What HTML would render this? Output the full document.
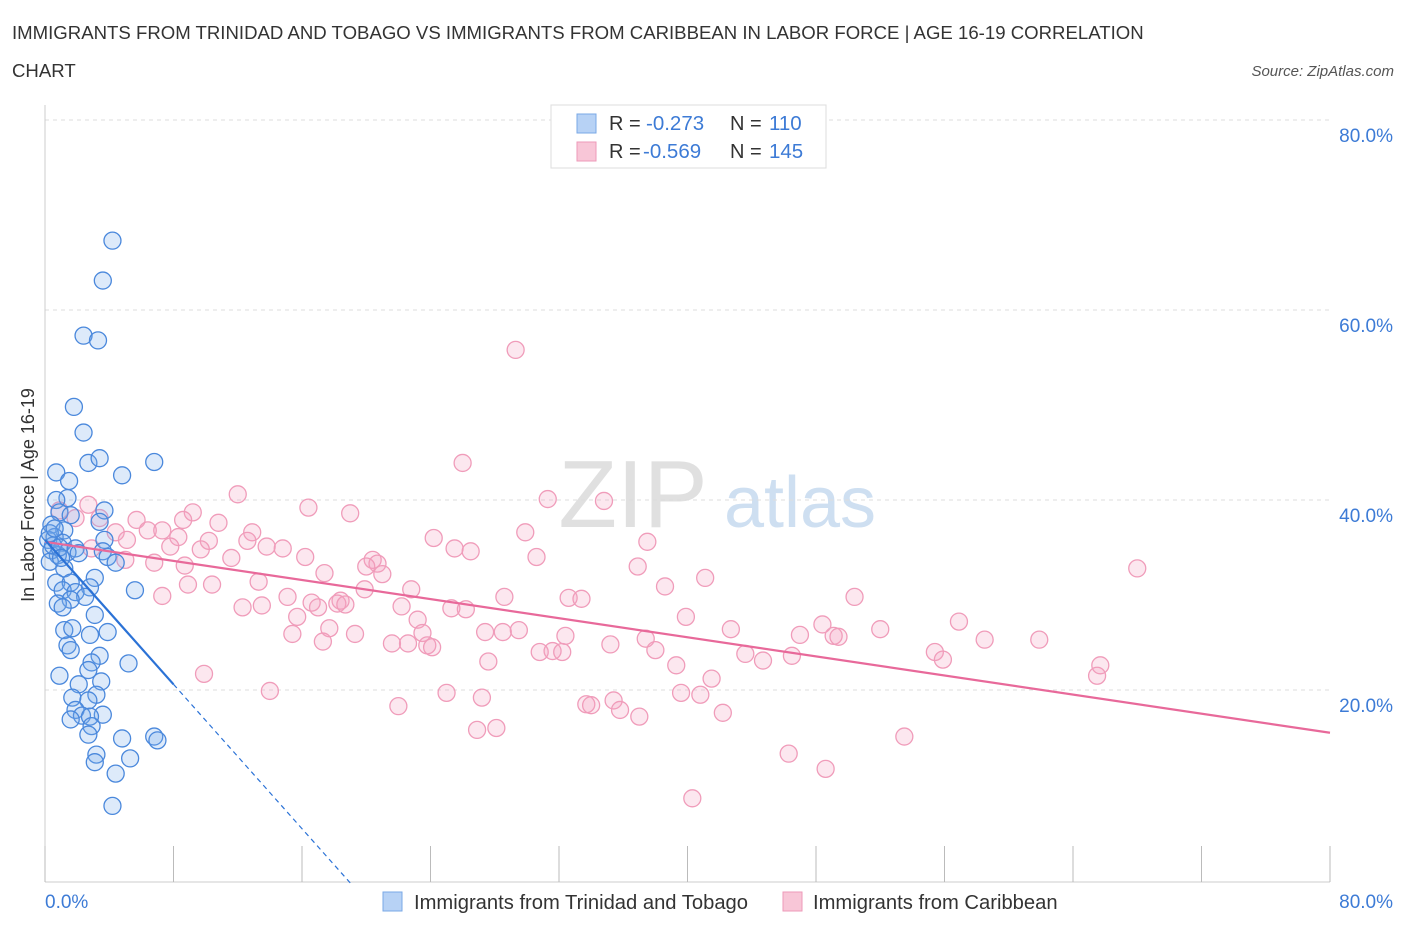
<!DOCTYPE html>
<html><head><meta charset="utf-8">
<style>
body{margin:0;background:#fff;font-family:"Liberation Sans",sans-serif;}
#wrap{position:relative;width:1406px;height:930px;overflow:hidden;}
svg text{font-family:"Liberation Sans",sans-serif;}
</style></head>
<body>
<div id="wrap">
<svg id="chart" width="1406" height="930">
  <text x="12" y="39" font-size="18.6" fill="#333">IMMIGRANTS FROM TRINIDAD AND TOBAGO VS IMMIGRANTS FROM CARIBBEAN IN LABOR FORCE | AGE 16-19 CORRELATION</text>
  <text x="12" y="77" font-size="18.6" fill="#333">CHART</text>
  <text x="1394" y="76" font-size="15" fill="#555" font-style="italic" text-anchor="end">Source: ZipAtlas.com</text>
  <text x="34" y="495" font-size="18" fill="#333" text-anchor="middle" transform="rotate(-90 34 495)">In Labor Force | Age 16-19</text>
  <g>
    <text x="633" y="527" font-size="96" fill="#ddd" font-family="Liberation Serif" text-anchor="middle" opacity="0.9">ZIP</text>
    <text x="800" y="527" font-size="72" fill="#c9dcf0" text-anchor="middle" opacity="0.9">atlas</text>
  </g>
  <g id="grid"></g>
  <g id="axes"></g>
  <g id="points"></g>
  <g id="trends"></g>
  <g>
    <rect x="551" y="105" width="275" height="63" fill="#fff" stroke="#ddd"/>
    <rect x="577" y="114" width="19" height="19" fill="#b7d2f5" stroke="#7aa8e6"/>
    <text x="609" y="130" font-size="20" fill="#333">R = </text>
    <text x="646" y="130" font-size="20.5" fill="#3d7bd6">-0.273</text>
    <text x="730" y="130" font-size="20" fill="#333">N = </text>
    <text x="769" y="130" font-size="20.5" fill="#3d7bd6">110</text>
    <rect x="577" y="142" width="19" height="19" fill="#f8c6d7" stroke="#ee9ab8"/>
    <text x="609" y="158" font-size="20" fill="#333">R = </text>
    <text x="643" y="158" font-size="20.5" fill="#3d7bd6">-0.569</text>
    <text x="730" y="158" font-size="20" fill="#333">N = </text>
    <text x="769" y="158" font-size="20.5" fill="#3d7bd6">145</text>
  </g>
  <g>
    <rect x="383" y="892" width="19" height="19" fill="#b7d2f5" stroke="#7aa8e6"/>
    <text x="414" y="909" font-size="20.2" fill="#333">Immigrants from Trinidad and Tobago</text>
    <rect x="783" y="892" width="19" height="19" fill="#f8c6d7" stroke="#ee9ab8"/>
    <text x="813" y="909" font-size="20.2" fill="#333">Immigrants from Caribbean</text>
  </g>
</svg>
</div>
<script>
const yTicks=[20,40,60,80];
const yTickLabels=["20.0%","40.0%","60.0%","80.0%"];
const xTicks=[0,8,16,24,32,40,48,56,64,72,80];
const xEndLabels=["0.0%","80.0%"];
const blueX=[4.2,3.6,2.4,3.3,1.8,2.4,2.7,3.4,6.8,4.8,0.7,1.5,1.4,0.7,3.7,0.9,1.6,3.4,0.4,1.2,0.6,0.2,1.1,1.9,3.7,0.4,1.4,2.1,0.8,3.6,3.9,4.4,0.3,1.2,3.1,0.7,1.6,2.8,5.6,1.1,1.9,2.5,1.6,0.8,1.1,3.1,1.2,2.8,3.9,1.7,1.4,1.6,3.4,2.9,5.2,2.7,0.9,3.5,2.1,3.2,1.7,2.7,1.9,2.3,3.6,2.8,1.6,2.9,2.7,4.8,6.8,7.0,3.2,3.1,5.3,4.4,4.2,0.5,0.9,0.3,1.0,0.6];
const blueY=[67.3,63.1,57.3,56.8,49.8,47.1,43.9,44.4,44.0,42.6,42.9,42.0,40.2,40.0,38.9,38.7,38.4,37.7,37.4,36.8,36.1,35.8,35.5,34.9,35.8,34.7,34.5,34.4,34.2,34.6,34.0,33.4,33.5,32.8,31.8,31.3,31.3,30.8,30.5,30.5,30.3,29.8,29.5,29.1,28.7,27.9,26.3,25.8,26.1,26.5,24.7,24.2,23.6,22.9,22.8,22.1,21.5,20.9,20.6,19.5,19.2,18.9,17.9,17.3,17.4,17.2,16.9,16.2,15.3,14.9,15.1,14.7,13.2,12.4,12.8,11.2,7.8,35.2,35.0,36.5,33.9,37.0];
const pinkX=[29.3,26.0,12.0,31.3,34.8,16.4,19.0,9.2,8.6,10.8,2.7,1.9,0.9,3.4,5.7,6.4,7.3,4.4,5.1,29.9,12.9,24.2,8.3,10.2,12.6,37.5,2.9,7.8,9.7,13.8,14.8,25.5,26.5,16.2,11.6,30.6,5.0,6.8,8.7,20.4,20.7,20.0,21.0,36.9,68.0,41.1,17.4,8.9,10.4,13.3,38.6,22.8,19.9,7.3,15.1,28.6,32.6,33.4,50.4,16.6,18.4,18.2,18.7,12.3,13.5,22.2,25.3,26.2,17.0,15.7,23.2,39.9,48.4,56.9,19.3,17.7,23.5,15.4,27.4,28.5,29.5,42.7,52.0,32.4,47.0,49.1,49.4,17.3,21.6,22.6,23.8,24.1,37.4,35.2,58.5,61.9,30.8,31.6,32.2,38.0,43.6,44.7,46.5,55.4,55.9,27.6,39.3,65.7,65.5,9.9,41.5,14.0,25.0,27.2,35.4,39.6,40.8,22.0,33.7,34.0,35.8,37.0,42.2,26.9,28.1,53.5,46.3,48.6,40.3];
const pinkY=[55.8,43.9,40.6,40.1,39.9,39.2,38.6,38.7,37.9,37.6,39.5,38.1,38.9,38.1,37.9,36.8,36.8,36.6,35.8,36.6,36.6,36.0,36.1,35.7,35.7,35.6,34.9,35.1,34.8,35.1,34.9,34.9,34.6,34.0,33.9,34.0,33.7,33.4,33.1,33.7,33.3,33.0,32.2,33.0,32.8,31.8,32.3,31.1,31.1,31.4,30.9,30.6,30.6,29.9,29.8,29.8,29.7,29.6,29.8,29.2,29.4,29.1,29.0,28.7,28.9,28.8,28.6,28.5,28.7,27.7,27.4,27.7,26.9,27.2,25.9,26.5,26.0,25.9,26.1,26.1,26.3,26.4,26.4,25.7,25.8,25.7,25.6,25.1,24.9,24.9,24.7,24.5,25.4,24.8,25.3,25.3,24.0,24.1,24.0,24.2,23.8,23.1,23.6,24.0,23.2,23.0,22.6,22.6,21.5,21.7,21.2,19.9,19.7,19.2,18.9,19.7,19.5,18.3,18.5,18.4,17.9,17.2,17.6,15.8,16.0,15.1,13.3,11.7,8.6];
const blueTrendX=[0,8,19];
const blueTrendY=[35.8,20.6,-0.3];
const pinkTrendX=[0,80];
const pinkTrendY=[35.6,15.5];

const X0=45,X1=1330,Y0=880,Y1=120;
const xs=v=>X0+(v/80)*(X1-X0);
const ys=v=>Y0-(v/80)*(Y0-Y1);
const NS="http://www.w3.org/2000/svg";
function mk(tag,attrs,parent){const e=document.createElementNS(NS,tag);for(const k in attrs)e.setAttribute(k,attrs[k]);parent.appendChild(e);return e;}
const grid=document.getElementById('grid'),axes=document.getElementById('axes'),pts=document.getElementById('points'),tr=document.getElementById('trends');
yTicks.forEach((t,i)=>{
  const l=mk('line',{x1:X0,x2:X1,y1:ys(t),y2:ys(t),stroke:'#ddd','stroke-dasharray':'4,4'},grid);
  
  
  const tx=mk('text',{x:1393,y:ys(t)+22,'font-size':19,fill:'#3d7bd6','text-anchor':'end'},axes);
  tx.textContent=yTickLabels[i];
  
  
});
const ax=mk('line',{x1:X0,x2:X0,y1:105,y2:882,stroke:'#ccc'},axes);


const bx=mk('line',{x1:X0,x2:X1,y1:882,y2:882,stroke:'#ccc'},axes);


xTicks.forEach(t=>{
  const l=mk('line',{x1:xs(t),x2:xs(t),y1:846,y2:882,stroke:'#bbb'},axes);
  
  
});
const xl0=mk('text',{x:45,y:908,'font-size':19,fill:'#3d7bd6'},axes);xl0.textContent=xEndLabels[0];


const xl1=mk('text',{x:1393,y:908,'font-size':19,fill:'#3d7bd6','text-anchor':'end'},axes);xl1.textContent=xEndLabels[1];


pinkX.forEach((v,i)=>{
  const c=mk('circle',{cx:xs(v),cy:ys(pinkY[i]),r:8.5,fill:'rgba(244,160,190,0.25)',stroke:'#f09cba','stroke-width':1.3},pts);
  
  
});
blueX.forEach((v,i)=>{
  const c=mk('circle',{cx:xs(v),cy:ys(blueY[i]),r:8.5,fill:'rgba(120,170,235,0.25)',stroke:'#4a88dc','stroke-width':1.3},pts);
  
  
});
const pl=mk('line',{x1:xs(pinkTrendX[0]),y1:ys(pinkTrendY[0]),x2:xs(pinkTrendX[1]),y2:ys(pinkTrendY[1]),stroke:'#e8699a','stroke-width':2.2},tr);


const bl=mk('line',{x1:xs(blueTrendX[0]),y1:ys(blueTrendY[0]),x2:xs(blueTrendX[1]),y2:ys(blueTrendY[1]),stroke:'#2b72d6','stroke-width':2.2},tr);


const bd=mk('line',{x1:xs(blueTrendX[1]),y1:ys(blueTrendY[1]),x2:xs(blueTrendX[2]),y2:ys(blueTrendY[2]),stroke:'#2b72d6','stroke-width':1.2,'stroke-dasharray':'5,4'},tr);


</script>
</body></html>
